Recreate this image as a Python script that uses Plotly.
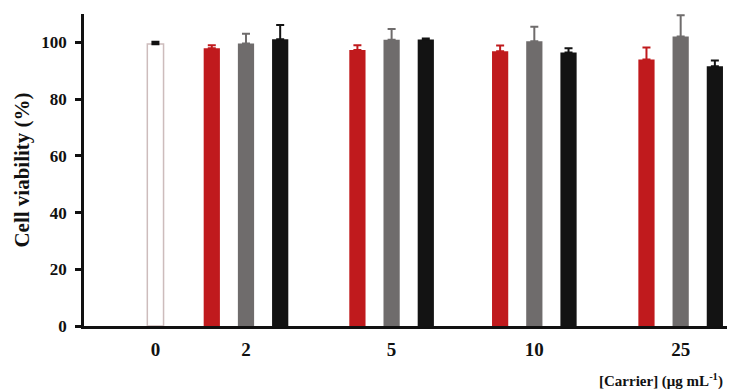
import plotly.graph_objects as go

# data
conc_labels = ["0", "2", "5", "10", "25"]
group_pos = [0.0, 0.625, 1.63, 2.615, 3.625]   # x-axis positions of groups

control_val = [99.4]
control_err = [0.7]

series_names = ["Carrier A", "Carrier B", "Carrier C"]
red_vals = [97.9, 97.3, 96.9, 94.0]
red_err = [1.1, 1.7, 2.0, 4.2]
grey_vals = [99.6, 100.9, 100.4, 102.1]
grey_err = [3.4, 3.8, 5.1, 7.5]
black_vals = [101.1, 101.0, 96.4, 91.6]
black_err = [5.0, 0.4, 1.5, 2.0]

colors = ["#c01a1d", "#6f6c6c", "#131313"]
bar_w = 0.112
offset = 0.236

fig = go.Figure()
fig.add_trace(go.Bar(
    x=[group_pos[0]], y=control_val, width=bar_w,
    marker=dict(color="white", line=dict(color="#cdbcbc", width=1.5)),
    error_y=dict(type="data", array=control_err, arrayminus=[0] * len(control_err),
                 symmetric=False, color="#111111", thickness=2.5, width=4),
    name="Control", showlegend=False))

for k, (vals, errs) in enumerate([(red_vals, red_err), (grey_vals, grey_err), (black_vals, black_err)]):
    xs = [p + (k - 1) * offset for p in group_pos[1:]]
    fig.add_trace(go.Bar(
        x=xs, y=vals, width=bar_w,
        marker=dict(color=colors[k], line=dict(width=0)),
        error_y=dict(type="data", array=errs, arrayminus=[0] * len(errs), symmetric=False,
                     color=colors[k], thickness=2, width=4),
        name=series_names[k], showlegend=False))

font_fam = "Liberation Serif, Times New Roman, serif"
# page body has an 8px margin, so the figure is sized 8px smaller
fig.update_layout(
    width=727, height=384,
    margin=dict(l=76, r=0, t=6, b=66),
    paper_bgcolor="white", plot_bgcolor="white",
    font=dict(family=font_fam, color="#111111"),
    barmode="overlay",
    xaxis=dict(range=[-0.493, 4.0], tickmode="array", tickvals=group_pos,
               ticktext=["<b>%s</b>" % t for t in conc_labels],
               showline=True, linecolor="#111111", linewidth=2.5, ticks="",
               showgrid=False, zeroline=False, tickfont=dict(size=19),
               automargin=False, ticklabelstandoff=4),
    yaxis=dict(range=[0, 110], tickmode="array", tickvals=[0, 20, 40, 60, 80, 100],
               ticktext=["<b>%d</b>" % v for v in [0, 20, 40, 60, 80, 100]],
               showline=True, linecolor="#111111", linewidth=2.5,
               ticks="outside", ticklen=6, tickwidth=2.5, tickcolor="#111111",
               showgrid=False, zeroline=False, tickfont=dict(size=17),
               automargin=False, ticklabelstandoff=5,
               title=dict(text="<b>Cell viability (%)</b>", font=dict(size=21), standoff=6)),
)
fig.add_annotation(text="<b>[Carrier] (μg mL<sup>-1</sup>)</b>", xref="paper", yref="paper",
                   x=(717 - 76) / 651, y=-(372 - 318) / 312, xanchor="right", yanchor="middle",
                   showarrow=False, font=dict(size=15, family=font_fam, color="#111111"))

fig.write_html("out.html")
